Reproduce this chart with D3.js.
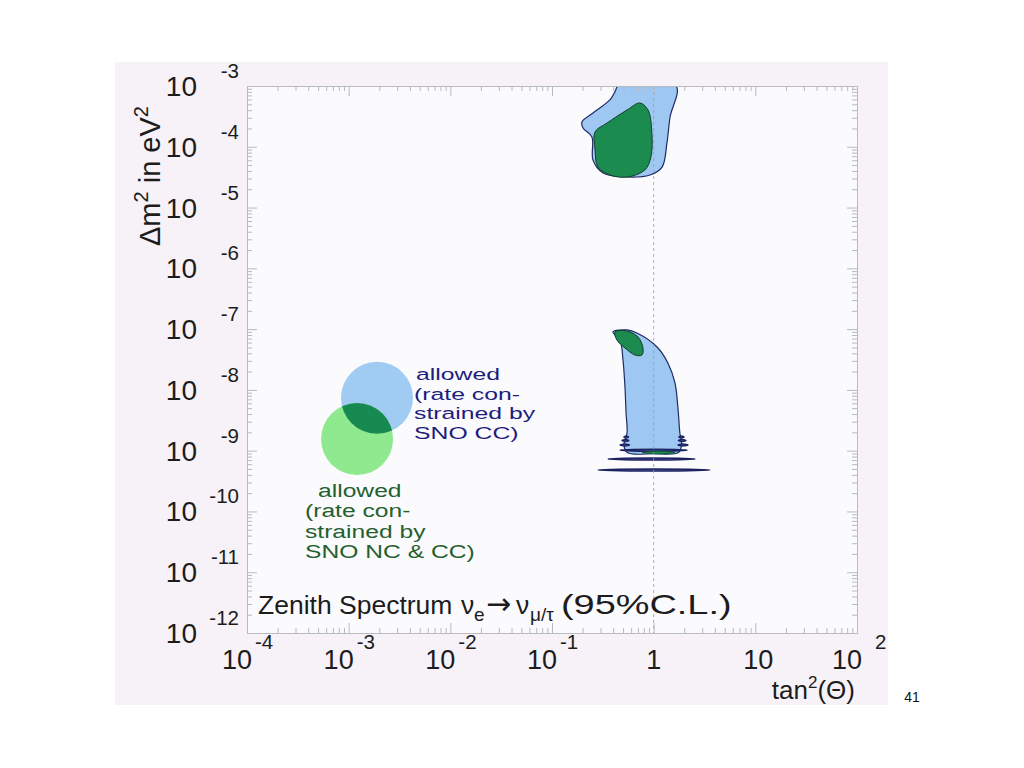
<!DOCTYPE html>
<html><head><meta charset="utf-8">
<script src="https://cdn.jsdelivr.net/npm/d3@7"></script>
<style>
body{margin:0;background:#fff;}
svg text{font-family:"Liberation Sans",Arial,sans-serif;}
</style></head>
<body>
<svg id="c" width="1024" height="768"></svg>
<script>
// ---- data (tan^2(theta), delta m^2 in eV^2) ----
const xMajor = [1e-4,1e-3,1e-2,1e-1,1,10,100];
const xLabels = [["10","-4"],["10","-3"],["10","-2"],["10","-1"],["1",""],["10",""],["10","2"]];
const yMajor = [1e-3,1e-4,1e-5,1e-6,1e-7,1e-8,1e-9,1e-10,1e-11,1e-12];
const yLabels = ["-3","-4","-5","-6","-7","-8","-9","-10","-11","-12"];

// LMA region (upper)
const lmaBlue = [[0.446,1e-3],[1.66,1e-3],[1.45,3.09e-4],[1.35,1.15e-4],[1.21,4.64e-5],[0.92,3.44e-5],
  [0.547,3.18e-5],[0.318,3.71e-5],[0.253,6.05e-5],[0.247,1.45e-4],[0.202,2.04e-4],[0.197,2.56e-4],
  [0.253,3.6e-4],[0.371,5.89e-4],[0.42,8.3e-4]];
const lmaGreen = [[0.733,5.25e-4],[0.88,4.03e-4],[0.96,1.69e-4],[0.94,6.8e-5],[0.82,4.15e-5],[0.547,3.18e-5],
  [0.371,3.44e-5],[0.283,4.64e-5],[0.265,8.86e-5],[0.265,1.75e-4],[0.348,2.46e-4],[0.547,4.03e-4]];

// LOW region (lower)
const lowBlue = [[0.398,8.97e-8],[0.547,9.68e-8],[0.685,8.63e-8],[1.08,5.08e-8],[1.38,2.77e-8],[1.62,1.30e-8],
  [1.73,5.24e-9],[1.81,1.95e-9],[1.88,1.25e-9],[1.75,9.3e-10],[1.0,8.9e-10],[0.55,9.3e-10],[0.51,1.25e-9],
  [0.547,1.95e-9],[0.535,4.17e-9],[0.522,1.12e-8],[0.499,3.1e-8],[0.467,6.62e-8]];
const lowGreen = [[0.417,8.97e-8],[0.547,9.31e-8],[0.702,7.41e-8],[0.785,4.89e-8],[0.767,3.75e-8],
  [0.655,3.75e-8],[0.522,4.89e-8],[0.435,6.62e-8]];
// ripple bands at the bottom of LOW region: [xLeft, xRight, dm2]
const ripples = [[0.510,0.565,1.68e-9],[1.77,1.99,1.68e-9],[0.488,0.57,1.47e-9],[1.75,2.08,1.47e-9],
  [0.467,0.58,1.24e-9],[1.73,2.18,1.24e-9],[0.467,2.13,1.02e-9],[0.356,2.55,7.3e-10],[0.283,3.58,4.8e-10]];
const greenBand = [0.77,1.62,9.3e-10];

// legend circles centres
const legBlue = [1.9e-3,7.4e-9];
const legGreen = [1.21e-3,1.56e-9];
const legBlueText = ["allowed","(rate con-","strained by","SNO CC)"];
const legGreenText = ["allowed","(rate con-","strained by","SNO NC & CC)"];

// ---- drawing ----
const svg = d3.select("#c");
const L=247,R=857,T=86,B=633;
const x = d3.scaleLog().domain([1e-4,1e2]).range([L,R]);
const y = d3.scaleLog().domain([1e-12,1e-3]).range([B,T]);

svg.append("rect").attr("x",115).attr("y",62).attr("width",773).attr("height",643).attr("fill","#f6f2f8");
svg.append("rect").attr("x",L).attr("y",T).attr("width",R-L).attr("height",B-T).attr("fill","#fbfafd");

const defs = svg.append("defs");
defs.append("clipPath").attr("id","clip").append("rect").attr("x",L).attr("y",T).attr("width",R-L).attr("height",B-T);
const plot = svg.append("g").attr("clip-path","url(#clip)");

const line = d3.line().x(d=>x(d[0])).y(d=>y(d[1])).curve(d3.curveCatmullRomClosed.alpha(0.5));
const BLUE="#9ec8f1", GREEN="#1b8b50", EDGE="#1f2a66";

// LMA
plot.append("path").attr("d",line(lmaBlue))
  .attr("fill",BLUE).attr("stroke",EDGE).attr("stroke-width",1.2);
plot.append("path").attr("d",line(lmaGreen)).attr("fill",GREEN).attr("stroke","#123d2a").attr("stroke-width",1);

// LOW
function lens(x1,x2,v,h){
  const xm=Math.sqrt(x1*x2);
  return [[x1,v],[xm,v*h],[x2,v],[xm,v/h]];
}
plot.append("path").attr("d",line(lowBlue)).attr("fill",BLUE).attr("stroke",EDGE).attr("stroke-width",1.2);
ripples.forEach(r=>{
  plot.append("path").attr("d",line(lens(r[0],r[1],r[2],1.04)))
    .attr("fill","#4b5aa0").attr("stroke","#1c2260").attr("stroke-width",1.4);
});
plot.append("path").attr("d",line(lens(greenBand[0],greenBand[1],greenBand[2],1.05)))
  .attr("fill",GREEN).attr("stroke","#125a38").attr("stroke-width",1);
plot.append("path").attr("d",line(lowGreen)).attr("fill",GREEN).attr("stroke","#123d2a").attr("stroke-width",1);

// dashed line at tan^2 = 1
plot.append("line").attr("x1",x(1)).attr("x2",x(1)).attr("y1",T).attr("y2",B)
  .attr("stroke","#9a9aa6").attr("stroke-width",0.8).attr("stroke-dasharray","3,3");

// legend circles
const r0=36;
plot.append("circle").attr("cx",x(legBlue[0])).attr("cy",y(legBlue[1])).attr("r",r0).attr("fill","#a0cbf2");
plot.append("circle").attr("cx",x(legGreen[0])).attr("cy",y(legGreen[1])).attr("r",r0).attr("fill","#8fe98f");
defs.append("clipPath").attr("id","cb").append("circle").attr("cx",x(legBlue[0])).attr("cy",y(legBlue[1])).attr("r",r0);
plot.append("circle").attr("clip-path","url(#cb)").attr("cx",x(legGreen[0])).attr("cy",y(legGreen[1])).attr("r",r0).attr("fill","#168a50");

// legend text
function block(tx,ty,lines,pitch,size,color,sx,firstIndent){
  lines.forEach((s,i)=>{
    svg.append("text").attr("transform",`translate(${tx+(i===0?firstIndent:0)},${ty+i*pitch}) scale(${sx},1)`)
      .attr("font-size",size).attr("fill",color).text(s);
  });
}
block(414,380,legBlueText,19.6,17.2,"#1d1d7e",1.44,2);
block(305,497,legGreenText,20.4,17.6,"#24602e",1.4,13);

// axes frame & ticks
const minorX = x.ticks().filter(v=>!xMajor.some(m=>Math.abs(m/v-1)<1e-6));
const minorY = y.ticks().filter(v=>!yMajor.some(m=>Math.abs(m/v-1)<1e-6));
const TC="#b9b9c0";
function ax(gen,tr){
  const g=svg.append("g").attr("transform",tr).call(gen);
  g.selectAll("text").remove(); g.select(".domain").attr("stroke",TC);
  g.selectAll("line").attr("stroke",TC);
}
ax(d3.axisBottom(x).tickValues(xMajor).tickSize(-10).tickFormat(""),`translate(0,${B})`);
ax(d3.axisBottom(x).tickValues(minorX).tickSize(-5).tickFormat(""),`translate(0,${B})`);
ax(d3.axisTop(x).tickValues(xMajor).tickSize(-10).tickFormat(""),`translate(0,${T})`);
ax(d3.axisTop(x).tickValues(minorX).tickSize(-5).tickFormat(""),`translate(0,${T})`);
ax(d3.axisLeft(y).tickValues(yMajor).tickSize(-10).tickFormat(""),`translate(${L},0)`);
ax(d3.axisLeft(y).tickValues(minorY).tickSize(-5).tickFormat(""),`translate(${L},0)`);
ax(d3.axisRight(y).tickValues(yMajor).tickSize(-10).tickFormat(""),`translate(${R},0)`);
ax(d3.axisRight(y).tickValues(minorY).tickSize(-5).tickFormat(""),`translate(${R},0)`);

// tick labels
const TXT="#1c1c1c";
yMajor.forEach((v,i)=>{
  const py=y(v);
  svg.append("text").attr("x",197).attr("y",py+10).attr("text-anchor","end").attr("font-size",28).attr("fill",TXT).text("10");
  svg.append("text").attr("x",239).attr("y",py-8).attr("text-anchor","end").attr("font-size",20.5).attr("fill",TXT).text(yLabels[i]);
});
xMajor.forEach((v,i)=>{
  const px=x(v), lab=xLabels[i];
  if(lab[1]===""){
    svg.append("text").attr("x",px+(lab[0]==="10"?3:0)).attr("y",669).attr("text-anchor","middle").attr("font-size",27).attr("fill",TXT).text(lab[0]);
  } else {
    const gap = lab[1]==="2"?18:8;
    svg.append("text").attr("x",px+5).attr("y",669).attr("text-anchor","end").attr("font-size",27).attr("fill",TXT).text(lab[0]);
    svg.append("text").attr("x",px+gap).attr("y",649).attr("text-anchor","start").attr("font-size",20.5).attr("fill",TXT).text(lab[1]);
  }
});

// axis titles
const xt=svg.append("text").attr("x",855).attr("y",699).attr("text-anchor","end").attr("font-size",26).attr("fill",TXT);
xt.append("tspan").text("tan");
xt.append("tspan").attr("dy",-11).attr("font-size",17).text("2");
xt.append("tspan").attr("dy",11).text("(Θ)");

const yt=svg.append("text").attr("transform","translate(160,246) rotate(-90)").attr("font-size",29).attr("fill",TXT);
yt.append("tspan").text("Δm");
yt.append("tspan").attr("dy",-12).attr("font-size",20).text("2");
yt.append("tspan").attr("dy",12).text(" in eV");
yt.append("tspan").attr("dy",-12).attr("font-size",20).text("2");

// title inside plot
const tt=svg.append("text").attr("y",614).attr("font-size",26.5).attr("fill",TXT);
tt.append("tspan").attr("x",258).text("Zenith Spectrum");
tt.append("tspan").attr("x",461).text("ν");
tt.append("tspan").attr("x",474).attr("dy",7).attr("font-size",19).text("e");
tt.append("tspan").attr("x",486).attr("dy",-7).attr("font-family","DejaVu Sans").attr("font-size",30).text("→");
tt.append("tspan").attr("x",516).attr("font-size",26.5).text("ν");
tt.append("tspan").attr("x",530).attr("dy",7).attr("font-size",19).text("μ/τ");
svg.append("text").attr("transform","translate(561,614) scale(1.33,1)").attr("font-size",28.5).attr("fill",TXT).text("(95%C.L.)");

svg.append("text").attr("x",912).attr("y",702).attr("text-anchor","middle").attr("font-size",14).attr("fill","#111").text("41");
</script>
</body></html>
